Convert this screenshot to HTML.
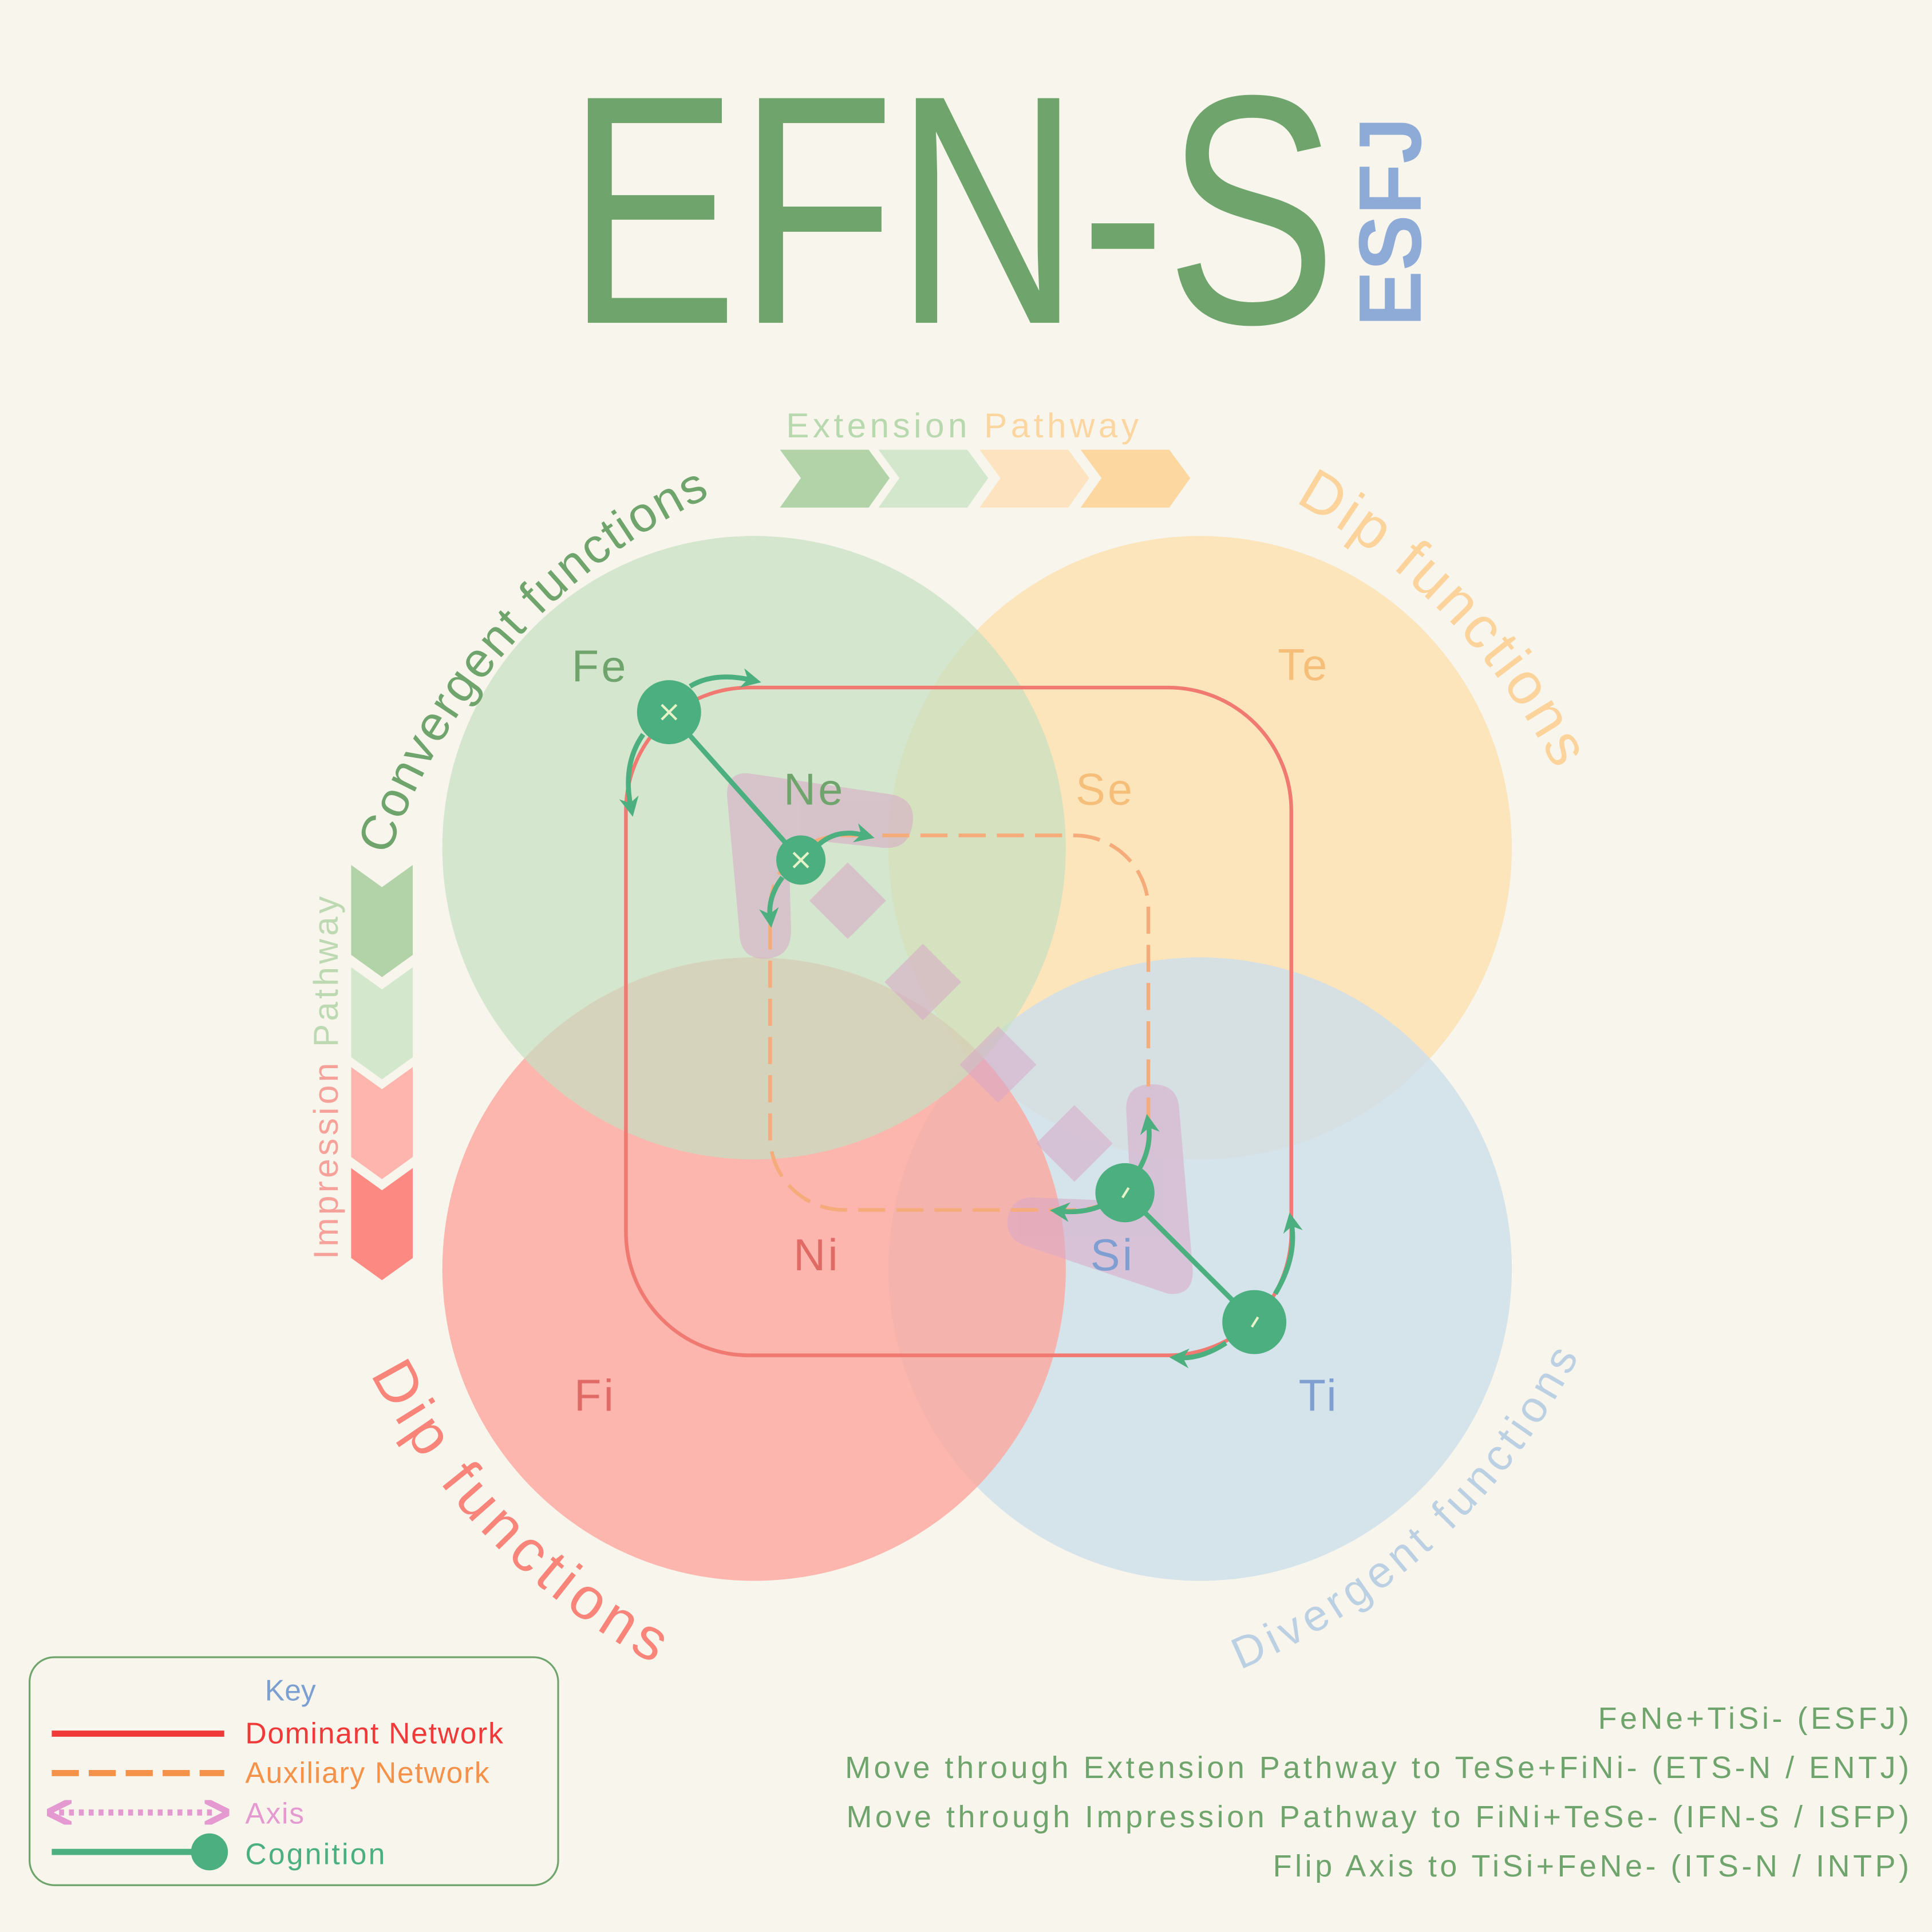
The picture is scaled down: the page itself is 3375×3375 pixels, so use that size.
<!DOCTYPE html>
<html><head><meta charset="utf-8"><style>
html,body{margin:0;padding:0;background:#f7f5ec}
svg{display:block}
text{font-family:"Liberation Sans",sans-serif}
</style></head><body>
<svg width="3375" height="3375" viewBox="0 0 1568 1568" xmlns="http://www.w3.org/2000/svg">
<defs>
<marker id="ah" viewBox="0 0 10 10" refX="5" refY="5" markerWidth="4" markerHeight="4" orient="auto"><path d="M0,0 L10,5 L0,10 L3,5 z" fill="#4caf7f"/></marker>
<marker id="pa" viewBox="0 0 10 10" refX="5" refY="5" markerWidth="4" markerHeight="4" orient="auto"><path d="M0,0 L10,5 L0,10" fill="none" stroke="#e49ad0" stroke-width="2.5"/></marker>
<marker id="pb" viewBox="0 0 10 10" refX="5" refY="5" markerWidth="4" markerHeight="4" orient="auto-start-reverse"><path d="M0,0 L10,5 L0,10" fill="none" stroke="#e49ad0" stroke-width="2.5"/></marker>
<path id="a1" d="M315.5,694.6 A505,505 0 0 1 749,356"/>
<path id="a2" d="M1050.7,407.3 A520,520 0 0 1 1310,760"/>
<path id="a3" d="M300.7,1115.2 A555,555 0 0 0 720,1412"/>
<path id="a4" d="M1006.6,1355 A540,540 0 0 0 1330,960"/>
</defs>
<rect width="1568" height="1568" fill="#f7f5ec"/>
<!-- title -->
<text x="460" y="262" font-size="265" fill="#6fa56c" textLength="625" lengthAdjust="spacingAndGlyphs">EFN-S</text>
<text transform="translate(1153,265) rotate(-90)" font-size="72" font-weight="bold" fill="#8eaad6" textLength="170" lengthAdjust="spacingAndGlyphs">ESFJ</text>
<!-- circles -->
<circle cx="974" cy="688" r="253" fill="#fde0b3" opacity="0.85"/>
<circle cx="974" cy="1030" r="253" fill="#cfdfea" opacity="0.85"/>
<circle cx="612" cy="1030" r="253" fill="#fca69d" opacity="0.8"/>
<circle cx="612" cy="688" r="253" fill="#c5e0c0" opacity="0.7"/>
<!-- arcs text -->
<text font-size="40" fill="#6fa56c" letter-spacing="3"><textPath href="#a1" textLength="405">Convergent  functions</textPath></text>
<text font-size="48" fill="#fcd39a" letter-spacing="3"><textPath href="#a2" textLength="311">Dip functions</textPath></text>
<text font-size="48" fill="#f8847a" letter-spacing="3"><textPath href="#a3" textLength="337">Dip functions</textPath></text>
<text font-size="36" fill="#bcd0e3" letter-spacing="3"><textPath href="#a4" textLength="385">Divergent functions</textPath></text>
<!-- extension pathway -->
<text x="638" y="355" font-size="28" letter-spacing="3" fill="#b8d8ae">Extension <tspan fill="#fcd6a0">Pathway</tspan></text>
<g>
<path d="M633,365 H705 L722,388 L705,412 H633 L650,388 z" fill="#b2d3a8"/>
<path d="M713,365 H785 L802,388 L785,412 H713 L730,388 z" fill="#d3e7cc"/>
<path d="M795,365 H867 L884,388 L867,412 H795 L812,388 z" fill="#fde3c0"/>
<path d="M877,365 H949 L966,388 L949,412 H877 L894,388 z" fill="#fdd7a0"/>
</g>
<!-- impression pathway -->
<text transform="translate(274,1022) rotate(-90)" font-size="28" letter-spacing="2.5" fill="#f6a29a">Impression <tspan fill="#bcd9b2">Pathway</tspan></text>
<path d="M285,702 L310,720 L335,702 V775 L310,793 L285,775 z" fill="#b2d3a8"/>
<path d="M285,785 L310,803 L335,785 V858 L310,876 L285,858 z" fill="#d3e7cc"/>
<path d="M285,866 L310,884 L335,866 V939 L310,957 L285,939 z" fill="#fdb5ae"/>
<path d="M285,948 L310,966 L335,948 V1021 L310,1039 L285,1021 z" fill="#fd8a82"/>
<!-- axis pink -->
<g fill="#d8a8c8" opacity="0.55">
<path d="M590,645 Q590,625 610,628 L725,645 Q745,650 740,672 Q736,690 716,688 L640,680 L642,755 Q642,778 620,778 Q600,778 600,755 z"/>
<path d="M914,900 Q914,880 935,880 Q956,880 957,900 L968,1030 Q969,1052 948,1050 L835,1012 Q815,1006 818,988 Q822,970 842,972 L918,975 z"/>
<rect x="666" y="709" width="44" height="44" transform="rotate(45 688 731)"/>
<rect x="727" y="775" width="44" height="44" transform="rotate(45 749 797)"/>
<rect x="788" y="842" width="44" height="44" transform="rotate(45 810 864)"/>
<rect x="850" y="906" width="44" height="44" transform="rotate(45 872 928)"/>
</g>
<!-- networks -->
<rect x="508" y="558" width="540" height="542" rx="100" fill="none" stroke="#f07a72" stroke-width="3"/>
<rect x="625" y="678" width="307" height="304" rx="60" fill="none" stroke="#f5ab7a" stroke-width="3" stroke-dasharray="22,9"/>
<!-- labels -->
<g font-size="36" letter-spacing="2">
<text x="464" y="553" fill="#6fa56c">Fe</text>
<text x="636" y="653" fill="#6fa56c">Ne</text>
<text x="873" y="653" fill="#f5bf7a">Se</text>
<text x="1037" y="552" fill="#f5bf7a">Te</text>
<text x="644" y="1031" fill="#e06a66">Ni</text>
<text x="885" y="1031" fill="#7f9fd3">Si</text>
<text x="466" y="1145" fill="#e06a66">Fi</text>
<text x="1054" y="1145" fill="#7f9fd3">Ti</text>
</g>
<!-- cognition -->
<g stroke="#4caf7f" stroke-width="4" fill="none">
<line x1="543" y1="578" x2="650" y2="698"/>
<line x1="913" y1="968" x2="1018" y2="1073"/>
<path d="M560,557 Q580,545 610,552" marker-end="url(#ah)"/>
<path d="M522,596 Q505,620 512,655" marker-end="url(#ah)"/>
<path d="M665,685 Q680,672 702,678" marker-end="url(#ah)"/>
<path d="M635,712 Q623,728 625,745" marker-end="url(#ah)"/>
<path d="M925,948 Q935,930 932,912" marker-end="url(#ah)"/>
<path d="M895,978 Q880,985 860,983" marker-end="url(#ah)"/>
<path d="M1035,1050 Q1053,1020 1048,992" marker-end="url(#ah)"/>
<path d="M995,1090 Q975,1103 957,1102" marker-end="url(#ah)"/>
</g>
<g fill="#4caf7f">
<circle cx="543" cy="578" r="26"/><circle cx="650" cy="698" r="20"/>
<circle cx="913" cy="968" r="24"/><circle cx="1018" cy="1073" r="26"/>
</g>
<g stroke="#e6f3c8" stroke-width="2">
<path d="M537,572 L549,584 M549,572 L537,584"/><path d="M644,692 L656,704 M656,692 L644,704"/>
<path d="M911,972 L916,964"/><path d="M1016,1077 L1021,1069"/>
</g>
<!-- legend -->
<rect x="24" y="1345" width="429" height="185" rx="20" fill="none" stroke="#6fa56c" stroke-width="1.5"/>
<text x="215" y="1380" font-size="24" fill="#7a9fd0">Key</text>
<line x1="42" y1="1407" x2="182" y2="1407" stroke="#f03a3a" stroke-width="5"/>
<line x1="42" y1="1439" x2="182" y2="1439" stroke="#f5924a" stroke-width="5" stroke-dasharray="22,8"/>
<line x1="48" y1="1471" x2="176" y2="1471" stroke="#e49ad0" stroke-width="5" stroke-dasharray="4,4" marker-end="url(#pa)" marker-start="url(#pb)"/>
<line x1="42" y1="1503" x2="160" y2="1503" stroke="#4caf7f" stroke-width="5"/>
<circle cx="170" cy="1503" r="15" fill="#4caf7f"/>
<g font-size="24" letter-spacing="0.8">
<text x="199" y="1415" fill="#f03a3a">Dominant Network</text>
<text x="199" y="1447" fill="#f5924a">Auxiliary Network</text>
<text x="199" y="1480" fill="#e49ad0">Axis</text>
<text x="199" y="1513" fill="#4caf7f" letter-spacing="1.5">Cognition</text>
</g>
<g font-size="25" fill="#6fa56c" text-anchor="end" letter-spacing="2.6">
<text x="1552" y="1403">FeNe+TiSi- (ESFJ)</text>
<text x="1552" y="1443">Move through Extension Pathway to TeSe+FiNi- (ETS-N / ENTJ)</text>
<text x="1552" y="1483">Move through Impression Pathway to FiNi+TeSe- (IFN-S / ISFP)</text>
<text x="1552" y="1523">Flip Axis to TiSi+FeNe- (ITS-N / INTP)</text>
</g>
</svg>
</body></html>
